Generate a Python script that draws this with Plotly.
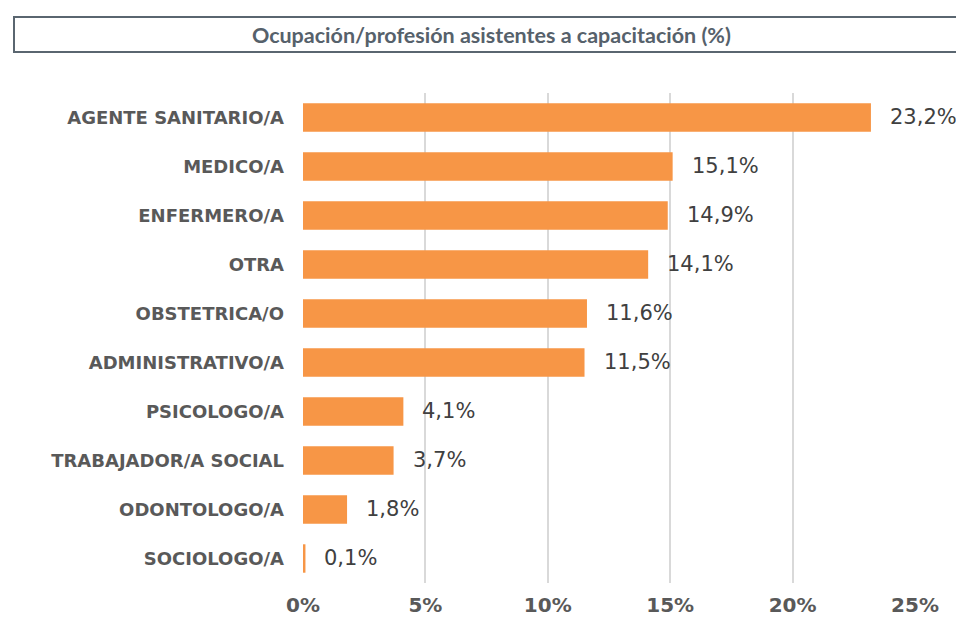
import plotly.graph_objects as go

# Occupation of training attendees, share in percent
categories = [
    "AGENTE SANITARIO/A",
    "MEDICO/A",
    "ENFERMERO/A",
    "OTRA",
    "OBSTETRICA/O",
    "ADMINISTRATIVO/A",
    "PSICOLOGO/A",
    "TRABAJADOR/A SOCIAL",
    "ODONTOLOGO/A",
    "SOCIOLOGO/A",
]
values = [23.2, 15.1, 14.9, 14.1, 11.6, 11.5, 4.1, 3.7, 1.8, 0.1]
tick_values = [0, 5, 10, 15, 20, 25]
tick_labels = ["0%", "5%", "10%", "15%", "20%", "25%"]
title_text = "Ocupación/profesión asistentes a capacitación (%)"

TOP, BOTTOM = 93, 583  # plot area edges in pixels


def pct(v):
    return f"{v:.1f}".replace(".", ",") + "%"


fig = go.Figure(
    go.Bar(
        x=values,
        y=categories,
        orientation="h",
        marker=dict(color="#F79646", line=dict(width=0)),
        width=0.58,
        hoverinfo="skip",
    )
)

# value labels to the right of each bar
annotations = [
    dict(
        x=v, y=c, xref="x", yref="y", text=pct(v), showarrow=False,
        xanchor="left", yanchor="middle", xshift=17, yshift=1,
        font=dict(family="DejaVu Sans", size=21, color="#404040"),
    )
    for c, v in zip(categories, values)
]

plot_h = BOTTOM - TOP
fig.update_layout(
    width=956,
    height=620,
    margin=dict(l=303, r=41, t=TOP, b=620 - BOTTOM),
    paper_bgcolor="white",
    plot_bgcolor="white",
    showlegend=False,
    bargap=0.42,
    title=dict(
        text=title_text,
        x=0.514, xanchor="center",
        y=1 - 35 / 620, yanchor="middle",
        font=dict(family="Lato", size=21.5, color="#56616B", weight="bold"),
    ),
    annotations=annotations,
    shapes=[
        dict(
            type="rect", xref="paper", yref="paper",
            x0=(14 - 303) / 612, x1=(962 - 303) / 612,
            y0=(BOTTOM - 52) / plot_h, y1=(BOTTOM - 17) / plot_h,
            line=dict(color="#5A6670", width=2),
            fillcolor="rgba(0,0,0,0)",
        )
    ],
    xaxis=dict(
        range=[0, 25],
        tickvals=tick_values,
        ticktext=tick_labels,
        showgrid=True,
        gridcolor="#D9D9D9",
        gridwidth=2,
        zeroline=False,
        showline=False,
        ticks="",
        automargin=False,
        ticklabelstandoff=8,
        tickfont=dict(family="DejaVu Sans", size=20, color="#595959", weight="bold"),
    ),
    yaxis=dict(
        autorange="reversed",
        showgrid=False,
        zeroline=False,
        showline=False,
        ticks="",
        automargin=False,
        ticklabelstandoff=18,
        tickfont=dict(family="DejaVu Sans", size=18, color="#595959", weight="bold"),
    ),
)

fig.write_html("out.html")
